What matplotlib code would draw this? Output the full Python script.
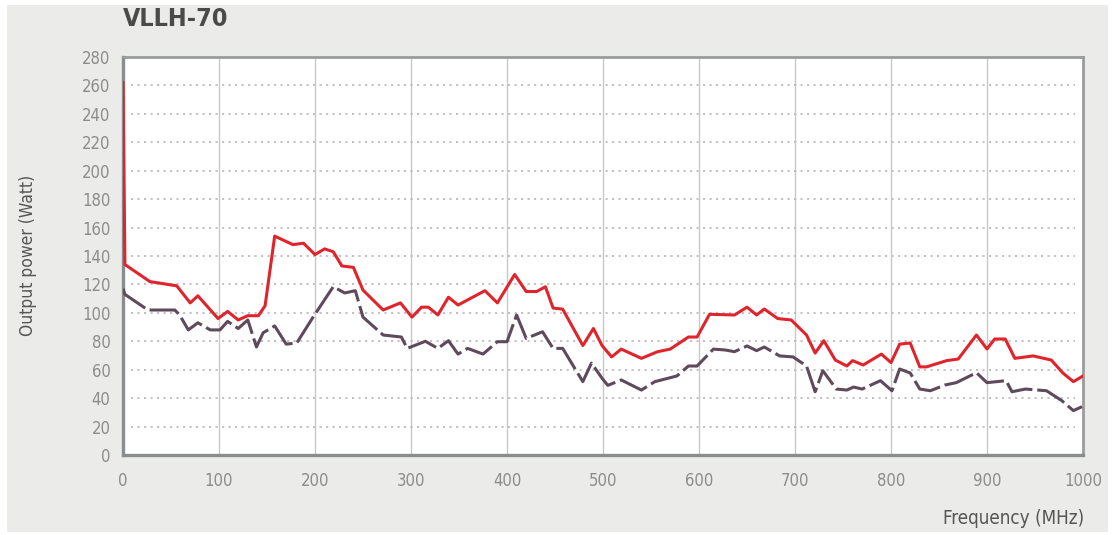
import numpy as np
import matplotlib
matplotlib.use('Agg')
import matplotlib.pyplot as plt
from matplotlib.patches import Rectangle

plt.rcParams['font.family'] = ['DejaVu Sans']
plt.rcParams['font.stretch'] = 'condensed'

# red (solid) curve
f_red = [0, 2, 28, 56, 70, 78, 99, 109, 120, 130, 141, 148, 158, 177, 188, 200, 210, 219,
         228, 240, 250, 271, 289, 301, 311, 318, 328, 339, 349, 377, 390, 408, 420, 431,
         440, 448, 458, 479, 490, 499, 509, 519, 540, 557, 570, 589, 598, 611, 637, 650,
         660, 668, 682, 696, 712, 721, 730, 742, 754, 760, 771, 790, 800, 809, 820, 830,
         837, 858, 870, 889, 900, 908, 919, 929, 948, 967, 979, 990, 1000]
p_red = [262, 134, 122, 119, 107, 112, 96, 101, 95, 98, 98, 105, 154, 148, 149, 141, 145, 143,
         133, 132, 116, 102, 107, 97, 104, 104, 98.5, 111, 105.5, 115.6, 107, 127, 115, 115,
         118.4, 103.4, 102.6, 77, 89, 77, 69, 74.5, 68, 72.7, 74.5, 83, 83, 99, 98.5, 104,
         98.5, 102.7, 96, 95, 84.4, 71.7, 80.4, 66.8, 62.6, 66.4, 63.3, 71, 65, 78, 78.8, 62,
         62, 66.4, 67.5, 84.4, 74.6, 81.6, 81.6, 68, 69.7, 66.8, 57.7, 51.6, 55.6]

# grey (dashed) curve
f_grey = [0, 2, 26, 54, 59, 68, 78, 91, 101, 109, 120, 130, 139, 146, 158, 170, 181, 198,
          219, 231, 242, 250, 271, 290, 296, 315, 328, 339, 349, 359, 375, 390, 400, 410,
          420, 437, 448, 458, 479, 488, 499, 505, 519, 540, 554, 577, 589, 598, 615, 627,
          637, 650, 660, 668, 684, 698, 712, 721, 729, 743, 754, 761, 770, 789, 801, 809,
          820, 830, 841, 856, 868, 889, 900, 920, 926, 940, 962, 978, 990, 999]
p_grey = [117, 113, 102, 102, 98.5, 88, 93, 88, 88, 94, 89, 95, 76, 86, 90.8, 78, 78.8, 97,
          118.4, 114, 115.6, 97, 84.4, 83, 75, 80, 75, 80.4, 71, 75, 71, 79.7, 79.7, 98.5,
          82, 86.7, 75, 75, 51.6, 64.7, 54, 49, 52.8, 45.7, 51.6, 55.6, 62.6, 62.6, 74.5, 73.9,
          72.7, 76.7, 73.4, 76, 69.7, 69, 62.6, 44.5, 59.3, 46.4, 45.7, 47.8, 46.4, 52.3, 45.2, 60.5,
          57.7, 46.4, 45.2, 49.2, 50.9, 57.9, 50.9, 52.3, 44.5, 46.4, 45.2, 38.2, 31.2, 34]

xticks = list(range(0, 1001, 100))
yticks = list(range(0, 281, 20))

fig = plt.figure(figsize=(11.15, 5.35), dpi=100, facecolor='white')
fig.patches.append(Rectangle((7/1115, 3/535), 1101/1115, 527/535, transform=fig.transFigure,
                             facecolor='#ebebea', edgecolor='none', zorder=-10))

ax = fig.add_axes([123/1115, 1-455/535, 960/1115, 398/535])
ax.set_facecolor('white')

ax.plot(f_red, p_red, color='#e0242c', lw=2.2, zorder=4)
ax.plot(f_grey, p_grey, color='#5e4a5a', lw=2.2, dashes=(10, 1.6), zorder=3)

ax.set_xlim(0, 1000)
ax.set_ylim(0, 280)
ax.set_xticks(xticks)
ax.set_yticks(yticks)

for x in xticks[1:-1]:
    ax.axvline(x, color='#c8c8c8', lw=1, zorder=1)
for y in yticks[1:-1]:
    ax.axhline(y, xmin=0.008, xmax=0.992, color='#b8b8b8', lw=1.2, dashes=(1.3, 2.6), zorder=1)

for s in ['left', 'bottom']:
    ax.spines[s].set_color('#8a8d8d')
    ax.spines[s].set_linewidth(2.4)
for s in ['top', 'right']:
    ax.spines[s].set_color('#9a9c9c')
    ax.spines[s].set_linewidth(2)

ax.tick_params(length=0, labelsize=12, labelcolor='#8c8c8c', pad=9)
ax.tick_params(axis='x', pad=12)

fig.text(123/1115, 1-19/535, 'VLLH-70', fontsize=18, fontweight='bold', color='#4a4a4a',
         ha='left', va='center')
fig.text(28/1115, 1-255/535, 'Output power (Watt)', fontsize=12.5, color='#555555',
         rotation=90, ha='center', va='center')
fig.text(1084/1115, 1-518/535, 'Frequency (MHz)', fontsize=13.5, color='#555555',
         ha='right', va='center')

fig.savefig('out.png', dpi=100, facecolor='white')
